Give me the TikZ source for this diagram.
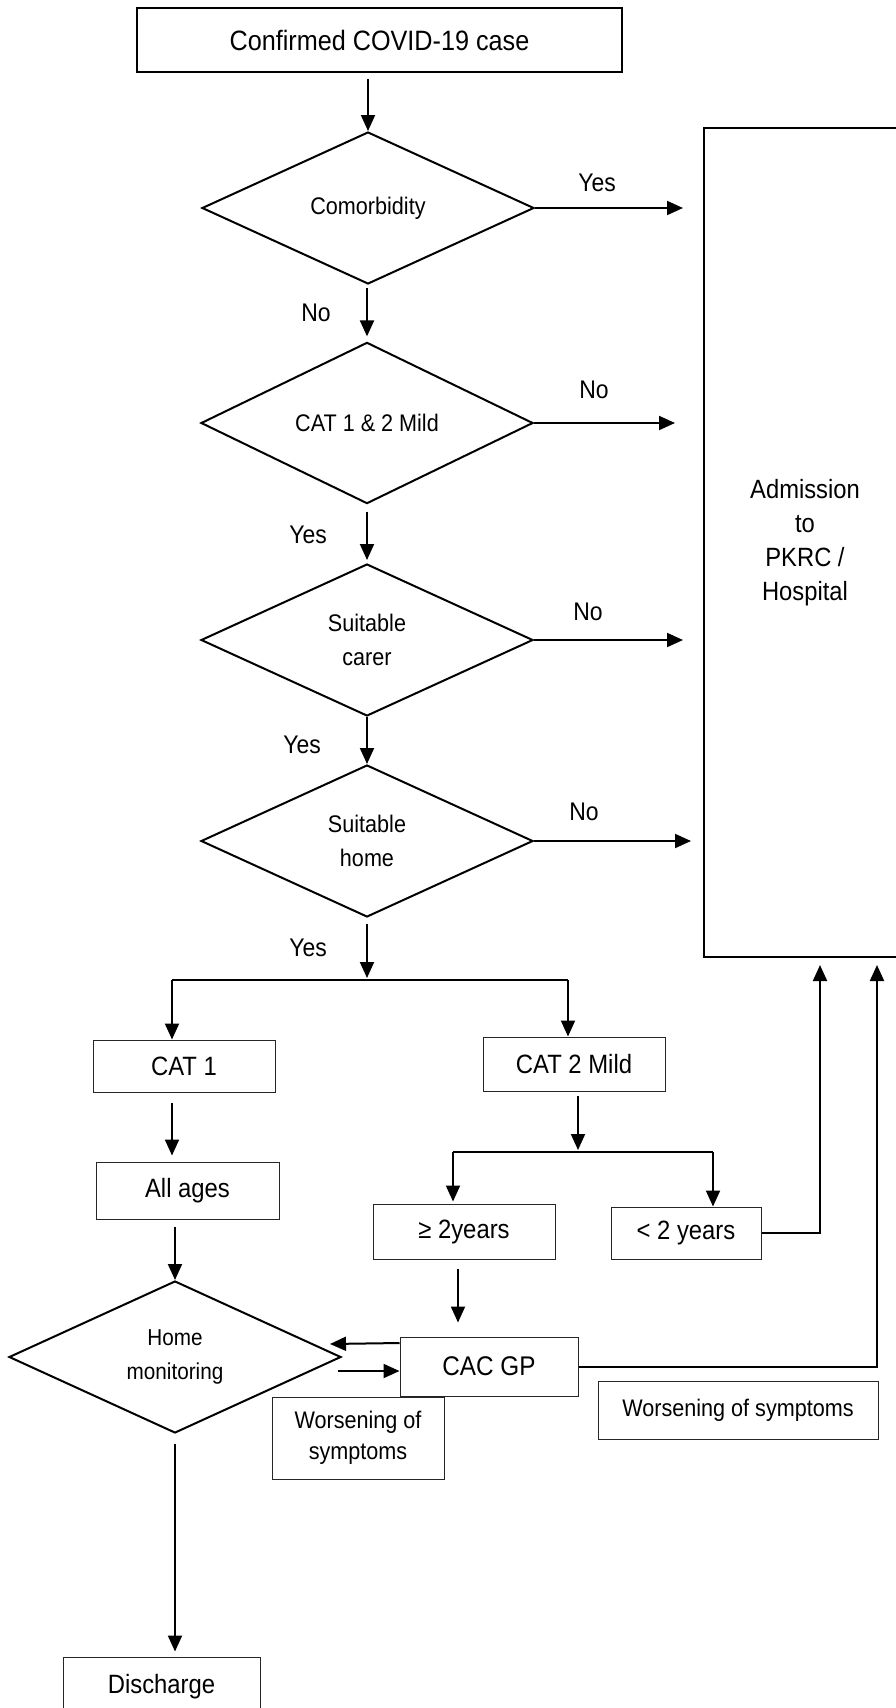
\documentclass[tikz,border=0pt]{standalone}
\usepackage{fontspec}
\setmainfont{Liberation Sans}[FakeStretch=0.9]
\usetikzlibrary{shapes.geometric,arrows.meta}

\begin{document}
\begin{tikzpicture}[x=1pt,y=-1pt]
\tikzstyle{box}=[draw=black!85,line width=1pt,minimum width=182pt,minimum height=52pt,align=center,font=\fontsize{26.5}{33}\selectfont];
\tikzstyle{decision}=[diamond,draw,line width=2pt,minimum width=332pt,minimum height=152pt,inner sep=0pt,align=center,font=\fontsize{24}{34}\selectfont];
\tikzstyle{lbl}=[font=\fontsize{25.5}{30}\selectfont];
\tikzstyle{arr}=[line width=2pt,-{Triangle[length=16pt,width=14pt]}];

\useasboundingbox (0,0) rectangle (895,1708);

% top and decisions
\node [box,line width=2pt,draw=black,minimum width=485pt,minimum height=64pt,font=\fontsize{28}{33}\selectfont] (case) at (379.5,40) {Confirmed COVID-19 case};
\node [decision] (comorb) at (368,208) {Comorbidity};
\node [decision] (cat12) at (367,423) {CAT 1 \& 2 Mild};
\node [decision] (carer) at (367,640) {Suitable\\carer};
\node [decision] (home) at (367,841) {Suitable\\home};

% admission
\node [draw,line width=2pt,minimum width=202pt,minimum height=829pt,align=center,font=\fontsize{26.4}{34}\selectfont] (admit) at (805,542.5) {Admission\\to\\PKRC /\\Hospital};

% categories
\node [box] (cat1) at (184,1066) {CAT 1};
\node [box,minimum height=54pt] (cat2) at (574,1064) {CAT 2 Mild};
\node [box,minimum width=183pt,minimum height=57pt] (allages) at (187.5,1190.5) {All ages};
\node [box,minimum height=55pt] (ge2) at (464,1231.5) {≥ 2years};
\node [box,minimum width=150pt] (lt2) at (686,1233) {< 2 years};
\node [decision,font=\fontsize{23}{34}\selectfont] (monitor) at (175,1357) {Home\\monitoring};
\node [box,minimum width=178pt,minimum height=59pt,font=\fontsize{27}{33}\selectfont] (cacgp) at (489,1366.5) {CAC GP};
\node [box,minimum width=172pt,minimum height=82pt,font=\fontsize{24}{31}\selectfont] (worse1) at (358,1438) {Worsening of\\symptoms};
\node [box,minimum width=280pt,minimum height=58pt,font=\fontsize{24}{31}\selectfont] (worse2) at (738,1410) {Worsening of symptoms};
\node [box,minimum width=197pt,minimum height=60pt] (discharge) at (161.5,1687) {Discharge};

% yes / no
\node [lbl] (l1) at (597,183) {Yes};
\node [lbl] (l2) at (316,313) {No};
\node [lbl] (l3) at (594,390) {No};
\node [lbl] (l4) at (308,535) {Yes};
\node [lbl] (l5) at (588,612) {No};
\node [lbl] (l6) at (302,745) {Yes};
\node [lbl] (l7) at (584,812) {No};
\node [lbl] (l8) at (308,948) {Yes};

\coordinate (t1) at (683,208);
\coordinate (t2) at (675,423);
\coordinate (t3) at (683,640);
\coordinate (t4) at (691,841);
\coordinate (s1) at (367,980);
\coordinate (b1l) at (172,980);
\coordinate (b1r) at (568,980);
\coordinate (s2) at (578,1152);
\coordinate (b2l) at (453,1152);
\coordinate (b2r) at (713,1152);
\coordinate (up1) at (820,965);
\coordinate (up2) at (877,965);
\coordinate (mback) at (330,1344);
\coordinate (mout) at (338,1371);

\draw [arr,shorten <=6pt] (comorb.north |- case.south) -- (comorb.north);
\draw [arr,shorten <=3pt,shorten >=5pt] (cat12.north |- comorb.south) -- (cat12.north);
\draw [arr,shorten <=7pt,shorten >=3pt] (cat12.south) -- (carer.north);
\draw [arr] (carer.south) -- (home.north);
\draw [arr] (comorb.east) -- (t1);
\draw [arr] (cat12.east) -- (t2);
\draw [arr] (carer.east) -- (t3);
\draw [arr] (home.east) -- (t4);

\draw [arr,shorten <=6pt,shorten >=2pt] (home.south) -- (s1);
\draw [line width=2pt] (b1l) -- (b1r);
\draw [arr] (b1l) -- (b1l |- cat1.north);
\draw [arr] (b1r) -- (b1r |- cat2.north);
\draw [arr,shorten <=10pt,shorten >=6pt] (cat1.south -| b1l) -- (b1l |- allages.north);
\draw [arr,shorten <=4pt,shorten >=2pt] (cat2.south -| s2) -- (s2);
\draw [line width=2pt] (b2l) -- (b2r);
\draw [arr,shorten >=2pt] (b2l) -- (b2l |- ge2.north);
\draw [arr] (b2r) -- (b2r |- lt2.north);
\draw [arr] (lt2.east) -| (up1);
\draw [arr,shorten <=7pt] (monitor.north |- allages.south) -- (monitor.north);
\draw [arr,shorten <=9pt,shorten >=14pt] ([xshift=-6pt]ge2.south) -- ([xshift=-6pt]ge2.south |- cacgp.north);
\draw [arr] ([yshift=23.5pt]cacgp.west) -- (mback);
\draw [arr] (mout) -- ([yshift=-4.5pt]cacgp.west);
\draw [arr] (cacgp.east) -| (up2);
\draw [arr,shorten <=10pt,shorten >=5pt] (monitor.south) -- (monitor.south |- discharge.north);
\end{tikzpicture}
\end{document}
